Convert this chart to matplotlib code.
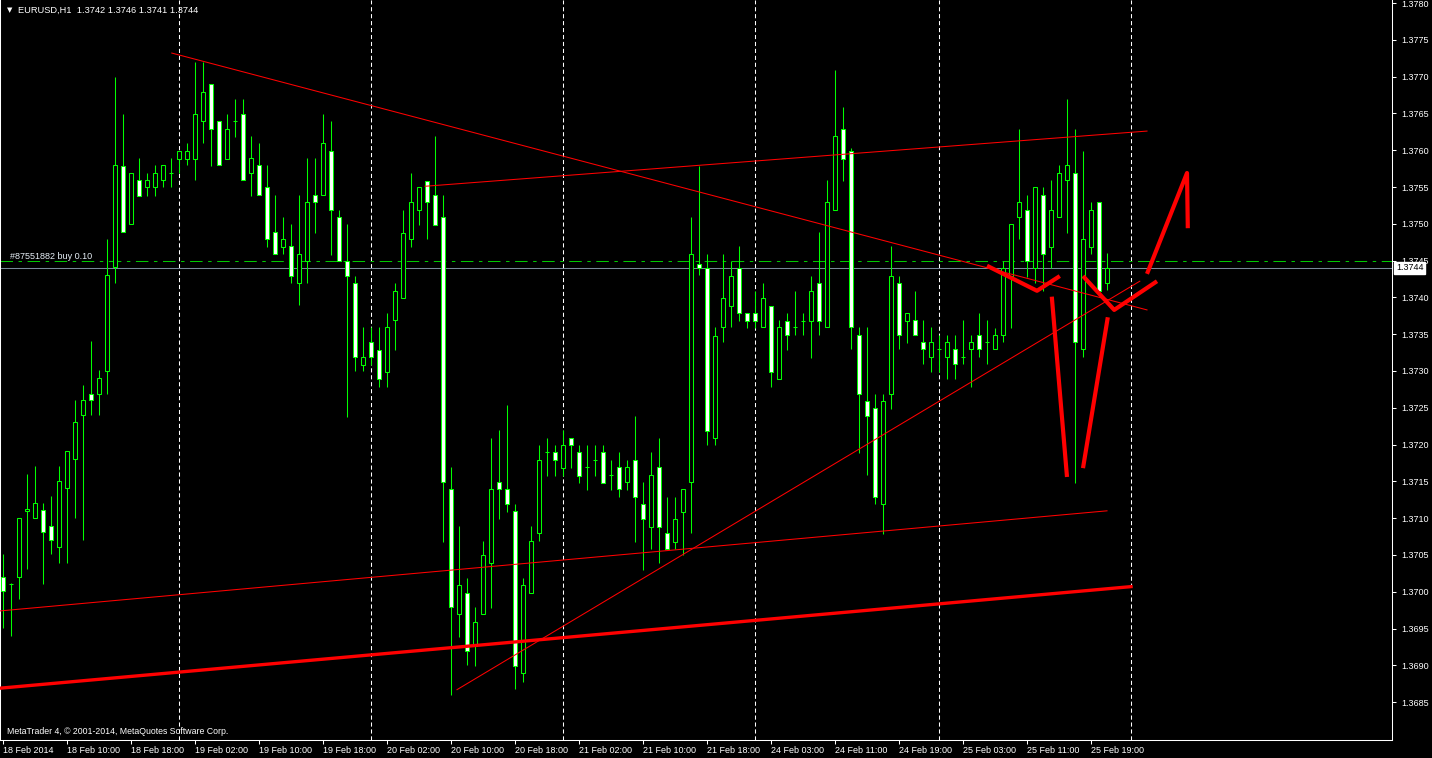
import matplotlib
matplotlib.use('Agg')
import matplotlib.pyplot as plt
import numpy as np

# EURUSD H1 candles, 18 Feb 2014 02:00 .. 25 Feb 2014 21:00
opens = [1.37020, 1.37010, 1.37020, 1.37110, 1.37100, 1.37111, 1.37089, 1.37061, 1.37141, 1.37180,
         1.37240, 1.37269, 1.37269, 1.37300, 1.37441, 1.37578, 1.37500, 1.37560, 1.37550, 1.37550,
         1.37560, 1.37569, 1.37588, 1.37588, 1.37588, 1.37640, 1.37690, 1.37640, 1.37588, 1.37640,
         1.37649, 1.37569, 1.37580, 1.37550, 1.37489, 1.37468, 1.37470, 1.37420, 1.37449, 1.37539,
         1.37539, 1.37599, 1.37509, 1.37449, 1.37420, 1.37308, 1.37339, 1.37329, 1.37299, 1.37369,
         1.37399, 1.37479, 1.37519, 1.37558, 1.37539, 1.37509, 1.37140, 1.36970, 1.36998, 1.36929,
         1.36970, 1.37039, 1.37149, 1.37140, 1.37110, 1.36890, 1.36998, 1.37080, 1.37190, 1.37190,
         1.37168, 1.37209, 1.37190, 1.37170, 1.37179, 1.37190, 1.37159, 1.37170, 1.37149, 1.37179,
         1.37119, 1.37088, 1.37170, 1.37080, 1.37068, 1.37108, 1.37149, 1.37445, 1.37440, 1.37209,
         1.37360, 1.37388, 1.37440, 1.37379, 1.37379, 1.37360, 1.37388, 1.37289, 1.37368, 1.37360,
         1.37368, 1.37368, 1.37420, 1.37360, 1.37519, 1.37629, 1.37599, 1.37349, 1.37259, 1.37250,
         1.37119, 1.37269, 1.37420, 1.37368, 1.37369, 1.37339, 1.37319, 1.37330, 1.37319, 1.37330,
         1.37319, 1.37330, 1.37349, 1.37339, 1.37330, 1.37349, 1.37429, 1.37509, 1.37519, 1.37440,
         1.37539, 1.37468, 1.37509, 1.37560, 1.37569, 1.37330, 1.37468, 1.37530, 1.37420]
highs = [1.37051, 1.37012, 1.37100, 1.37160, 1.37171, 1.37121, 1.37130, 1.37171, 1.37191, 1.37261,
         1.37281, 1.37341, 1.37301, 1.37479, 1.37699, 1.37649, 1.37569, 1.37589, 1.37569, 1.37580,
         1.37580, 1.37589, 1.37599, 1.37610, 1.37720, 1.37720, 1.37690, 1.37640, 1.37649, 1.37670,
         1.37670, 1.37619, 1.37610, 1.37580, 1.37539, 1.37509, 1.37500, 1.37539, 1.37589, 1.37589,
         1.37649, 1.37640, 1.37519, 1.37500, 1.37429, 1.37360, 1.37360, 1.37360, 1.37379, 1.37420,
         1.37519, 1.37569, 1.37550, 1.37558, 1.37619, 1.37539, 1.37170, 1.37089, 1.37019, 1.36979,
         1.37069, 1.37209, 1.37220, 1.37254, 1.37119, 1.37019, 1.37089, 1.37199, 1.37209, 1.37199,
         1.37220, 1.37209, 1.37199, 1.37199, 1.37199, 1.37199, 1.37179, 1.37190, 1.37179, 1.37239,
         1.37149, 1.37190, 1.37209, 1.37129, 1.37129, 1.37140, 1.37509, 1.37579, 1.37459, 1.37360,
         1.37459, 1.37449, 1.37470, 1.37379, 1.37409, 1.37420, 1.37388, 1.37369, 1.37379, 1.37409,
         1.37379, 1.37429, 1.37489, 1.37560, 1.37709, 1.37659, 1.37603, 1.37360, 1.37360, 1.37269,
         1.37269, 1.37470, 1.37429, 1.37379, 1.37409, 1.37369, 1.37360, 1.37349, 1.37349, 1.37349,
         1.37369, 1.37349, 1.37379, 1.37369, 1.37358, 1.37449, 1.37500, 1.37629, 1.37539, 1.37550,
         1.37550, 1.37560, 1.37580, 1.37670, 1.37629, 1.37599, 1.37530, 1.37530, 1.37460]
lows = [1.36951, 1.36940, 1.36990, 1.37031, 1.37100, 1.37011, 1.37051, 1.37039, 1.37039, 1.37100,
        1.37070, 1.37240, 1.37240, 1.37269, 1.37420, 1.37489, 1.37500, 1.37538, 1.37538, 1.37538,
        1.37550, 1.37550, 1.37569, 1.37580, 1.37560, 1.37610, 1.37578, 1.37580, 1.37588, 1.37618,
        1.37560, 1.37538, 1.37539, 1.37468, 1.37459, 1.37459, 1.37420, 1.37390, 1.37420, 1.37487,
        1.37539, 1.37458, 1.37449, 1.37237, 1.37300, 1.37300, 1.37308, 1.37278, 1.37278, 1.37329,
        1.37399, 1.37468, 1.37498, 1.37479, 1.37498, 1.37068, 1.36860, 1.36939, 1.36900, 1.36899,
        1.36970, 1.36978, 1.37099, 1.37108, 1.36868, 1.36877, 1.36998, 1.37069, 1.37157, 1.37157,
        1.37157, 1.37168, 1.37148, 1.37138, 1.37157, 1.37148, 1.37138, 1.37129, 1.37138, 1.37068,
        1.37030, 1.37058, 1.37039, 1.37058, 1.37058, 1.37050, 1.37080, 1.37430, 1.37199, 1.37199,
        1.37339, 1.37360, 1.37368, 1.37358, 1.37358, 1.37360, 1.37278, 1.37289, 1.37329, 1.37349,
        1.37349, 1.37318, 1.37349, 1.37360, 1.37519, 1.37558, 1.37330, 1.37189, 1.37159, 1.37119,
        1.37079, 1.37248, 1.37330, 1.37338, 1.37349, 1.37310, 1.37299, 1.37299, 1.37289, 1.37289,
        1.37310, 1.37278, 1.37319, 1.37310, 1.37330, 1.37339, 1.37358, 1.37479, 1.37428, 1.37420,
        1.37409, 1.37440, 1.37509, 1.37487, 1.37148, 1.37319, 1.37459, 1.37409, 1.37410]
closes = [1.37001, 1.37010, 1.37100, 1.37112, 1.37121, 1.37081, 1.37070, 1.37151, 1.37191, 1.37231,
          1.37261, 1.37261, 1.37290, 1.37430, 1.37580, 1.37489, 1.37569, 1.37538, 1.37560, 1.37569,
          1.37580, 1.37569, 1.37599, 1.37599, 1.37649, 1.37679, 1.37629, 1.37580, 1.37629, 1.37640,
          1.37560, 1.37589, 1.37539, 1.37479, 1.37459, 1.37479, 1.37429, 1.37459, 1.37530, 1.37530,
          1.37610, 1.37519, 1.37449, 1.37429, 1.37319, 1.37319, 1.37319, 1.37289, 1.37360, 1.37409,
          1.37487, 1.37530, 1.37550, 1.37530, 1.37498, 1.37149, 1.36979, 1.37009, 1.36920, 1.36959,
          1.37050, 1.37140, 1.37140, 1.37119, 1.36899, 1.37009, 1.37069, 1.37179, 1.37190, 1.37179,
          1.37199, 1.37199, 1.37157, 1.37170, 1.37179, 1.37148, 1.37159, 1.37140, 1.37170, 1.37129,
          1.37099, 1.37159, 1.37088, 1.37058, 1.37099, 1.37140, 1.37459, 1.37440, 1.37218, 1.37348,
          1.37399, 1.37429, 1.37379, 1.37368, 1.37368, 1.37399, 1.37299, 1.37360, 1.37349, 1.37360,
          1.37368, 1.37409, 1.37368, 1.37530, 1.37619, 1.37588, 1.37360, 1.37269, 1.37239, 1.37129,
          1.37259, 1.37429, 1.37349, 1.37379, 1.37349, 1.37330, 1.37339, 1.37330, 1.37339, 1.37310,
          1.37319, 1.37339, 1.37330, 1.37339, 1.37349, 1.37440, 1.37500, 1.37530, 1.37449, 1.37550,
          1.37459, 1.37519, 1.37569, 1.37580, 1.37339, 1.37479, 1.37519, 1.37409, 1.37440]

# time axis labels, one every 8 bars
time_labels = ['18 Feb 2014', '18 Feb 10:00', '18 Feb 18:00', '19 Feb 02:00', '19 Feb 10:00',
               '19 Feb 18:00', '20 Feb 02:00', '20 Feb 10:00', '20 Feb 18:00', '21 Feb 02:00',
               '21 Feb 10:00', '21 Feb 18:00', '24 Feb 03:00', '24 Feb 11:00', '24 Feb 19:00',
               '25 Feb 03:00', '25 Feb 11:00', '25 Feb 19:00']
day_starts = [22, 46, 70, 94, 117, 141]  # first bar of each new day

# drawn objects: (bar index list, price list)
thin_lines = [
    ([21.1, 143.0], [1.37732, 1.37383]),
    ([52.75, 143.0], [1.37551, 1.37626]),
    ([-0.375, 138.0], [1.36974, 1.37110]),
    ([56.75, 142.1], [1.36867, 1.37422]),
]
thick_line = ([-0.375, 141.0], [1.36869, 1.37007])
marker_strokes = [
    ([123.0, 129.25, 132.1], [1.37443, 1.37409, 1.37429]),
    ([131.1, 133.0], [1.37401, 1.37156]),
    ([135.0, 138.1], [1.37168, 1.37373]),
    ([135.0, 138.9, 144.25], [1.37429, 1.37383, 1.37422]),
    ([143.0, 148.0, 148.1], [1.37432, 1.37569, 1.37494]),
]
order_price = 1.3745
bid_price = 1.3744

plt.rcParams['font.family'] = ['Liberation Sans', 'DejaVu Sans']
plt.rcParams['lines.scale_dashes'] = False

W, H = 1432, 758
fig = plt.figure(figsize=(W / 100, H / 100), dpi=100, facecolor='black')
ax = fig.add_axes([0, 18 / H, 1392 / W, 740 / H])
ax.set_facecolor('black')

o = np.array(opens)
h = np.array(highs)
l = np.array(lows)
c = np.array(closes)
x = np.arange(len(o))
lime = '#00ff00'

# period separators
for d in day_starts:
    ax.axvline(d, color='white', lw=0.75, ls=(0, (3, 2)), zorder=1)

# order line and bid line
ax.axhline(order_price, color='#00c800', lw=0.75, ls=(0, (9, 4, 2.5, 4)), zorder=1)
ax.axhline(bid_price, color='#778899', lw=0.75, zorder=1)

# candles
ax.vlines(x, l, h, color=lime, lw=0.75, zorder=3)
fill = np.where(c < o, 'white', 'black')
ax.bar(x, np.abs(c - o), bottom=np.minimum(o, c), width=0.5, color=fill,
       edgecolor=lime, linewidth=0.75, zorder=4)

# trend lines
for xs, ys in thin_lines:
    ax.plot(xs, ys, color='red', lw=0.75, zorder=5)
ax.plot(thick_line[0], thick_line[1], color='red', lw=2.4, zorder=5)
for xs, ys in marker_strokes:
    ax.plot(xs, ys, color='red', lw=3.0, zorder=6, solid_capstyle='butt')

# axes styling
for side in ['left', 'right', 'bottom']:
    ax.spines[side].set_color('white')
    ax.spines[side].set_linewidth(0.75)
ax.spines['top'].set_visible(False)

ax.set_xticks(np.arange(0, 8 * len(time_labels), 8))
ax.set_xticklabels(time_labels, ha='left')
ax.yaxis.tick_right()
yt = np.round(np.arange(1.3685, 1.37801, 0.0005), 4)
ax.set_yticks(yt)
ax.set_yticklabels(['%.4f' % v for v in yt])
ax.tick_params(axis='x', colors='white', labelsize=6.5, length=3, width=0.75, pad=1)
ax.tick_params(axis='y', colors='white', labelsize=6.5, length=3, width=0.75, pad=4)

ax.set_xlim(-0.375, 173.625)
ax.set_ylim(1.367986, 1.378041)

# current price box
ax.text(1.0 + 4 / 1392, bid_price, '%.4f' % bid_price, transform=ax.get_yaxis_transform(),
        ha='left', va='center', color='black', fontsize=6.5, zorder=10, clip_on=False,
        bbox=dict(facecolor='white', edgecolor='white', boxstyle='square,pad=0.2'))

# texts
ax.text(10 / 1392, order_price, '#87551882 buy 0.10', transform=ax.get_yaxis_transform(),
        ha='left', va='bottom', color='#e6eef6', fontsize=6.5, zorder=7)
fig.text(7 / W, 1 - 10 / H, '▼', color='white', fontsize=5, family='DejaVu Sans',
         ha='left', va='center')
fig.text(18 / W, 1 - 10 / H, 'EURUSD,H1  1.3742 1.3746 1.3741 1.3744', color='white',
         fontsize=6.7, ha='left', va='center')
fig.text(7 / W, 1 - 731 / H, 'MetaTrader 4, © 2001-2014, MetaQuotes Software Corp.',
         color='white', fontsize=6.3, ha='left', va='center')

fig.savefig('out.png', dpi=100, facecolor='black')
